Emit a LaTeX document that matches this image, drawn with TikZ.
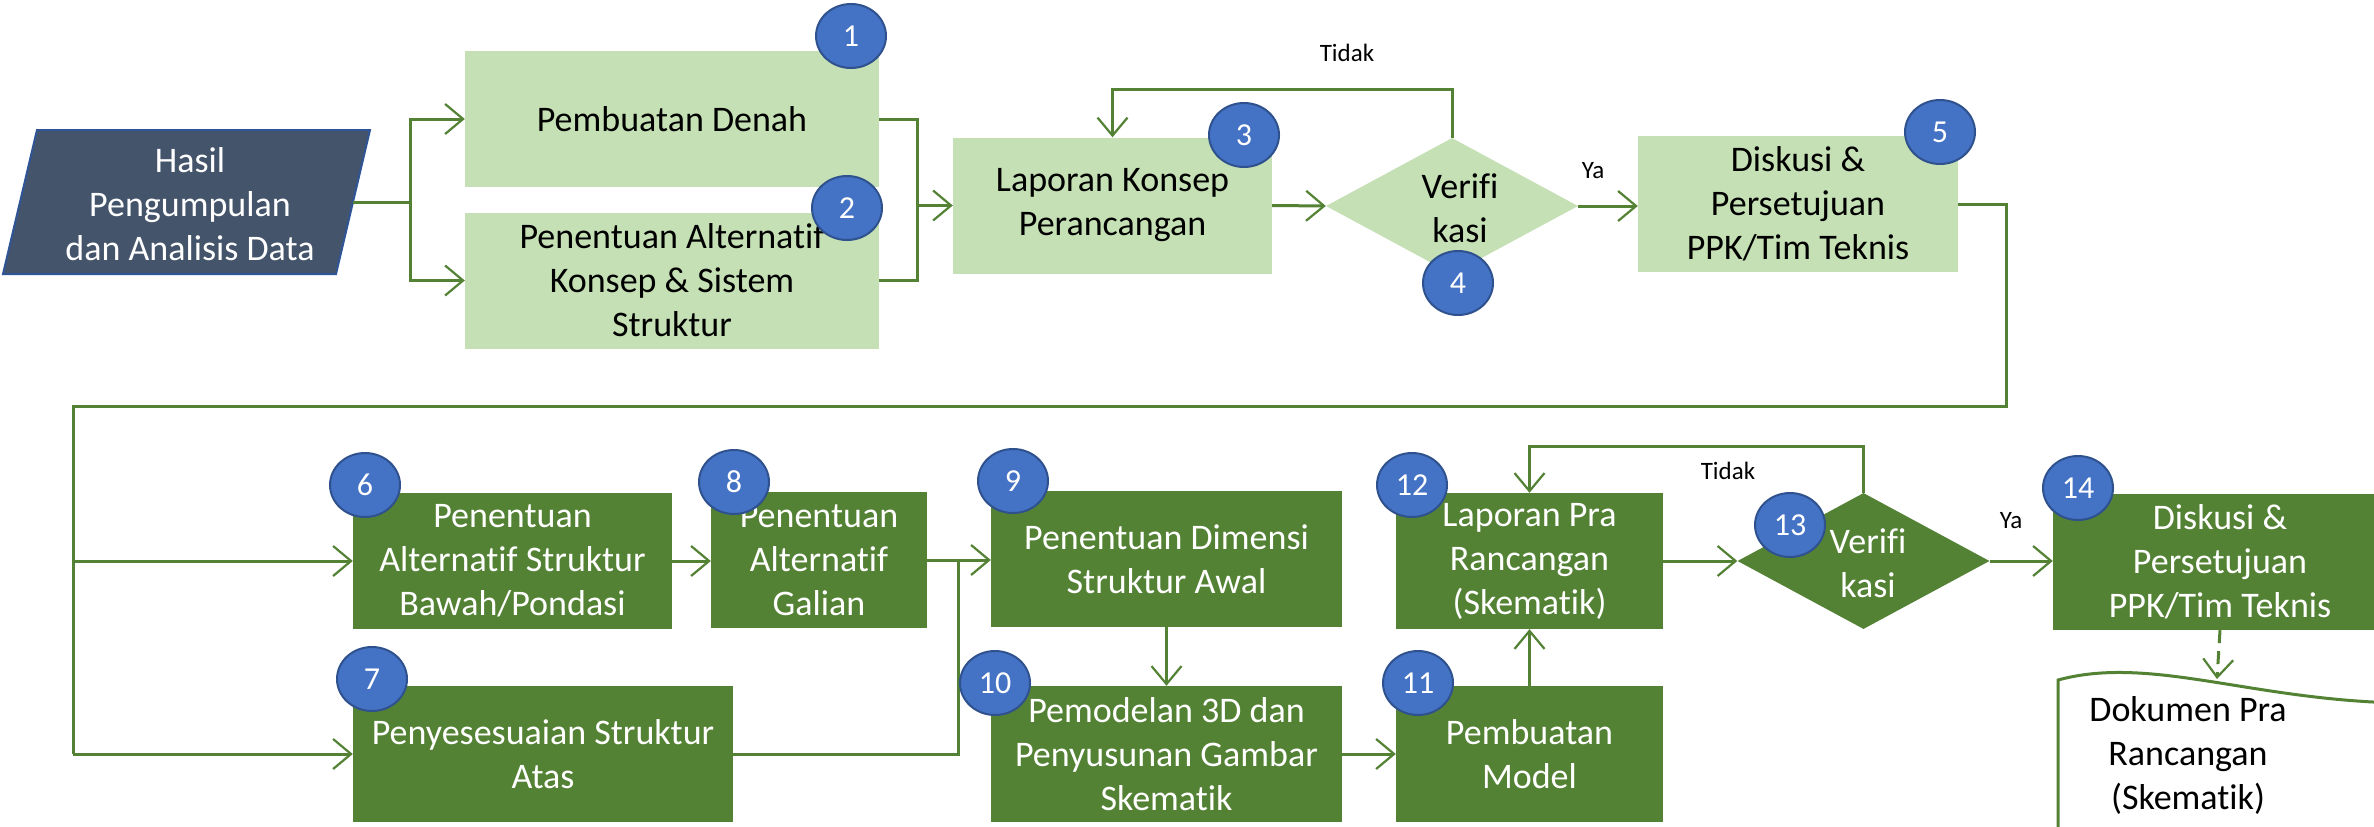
\documentclass[tikz,border=0pt]{standalone}
\usepackage{fontspec}
\setmainfont{Carlito}[Ligatures=NoCommon]
\usetikzlibrary{arrows.meta,shapes.geometric}
\definecolor{lgreen}{HTML}{C5E0B4}
\definecolor{dgreen}{HTML}{548235}
\definecolor{numblue}{HTML}{4472C4}
\definecolor{numedge}{HTML}{2F528F}
\definecolor{slate}{HTML}{44546A}
\definecolor{slateedge}{HTML}{2F5597}
\begin{document}
\begin{tikzpicture}[x=1pt,y=-1pt,
  boxtext/.style={font=\fontsize{36}{44}\selectfont, align=center},
  lightbox/.style={boxtext, rectangle, fill=lgreen, text=black, inner sep=0pt, minimum height=136pt},
  darkbox/.style={boxtext, rectangle, fill=dgreen, text=white, inner sep=0pt, minimum height=136pt},
  decision/.style={diamond, inner sep=0pt, minimum width=252pt, minimum height=136pt},
  badge/.style={ellipse, fill=numblue, draw=numedge, line width=2pt, minimum width=70pt, minimum height=64pt, inner sep=0pt, text=white, font=\fontsize{32}{38}\selectfont},
  flow/.style={draw=dgreen, line width=3pt},
  arrow/.style={flow, -{Straight Barb[length=18pt,width=30pt,line width=2.2pt]}},
  note/.style={font=\fontsize{25}{30}\selectfont, text=black}
]
\clip (0,0) rectangle (2374,827);
\fill[white] (0,0) rectangle (2374,827);

% input data
\draw[fill=slate, draw=slateedge, line width=2pt] (37,130) -- (370,130) -- (336,274) -- (3,274) -- cycle;
\node[boxtext, text=white] (src) at (190,204) {Hasil\\Pengumpulan\\dan Analisis Data};
\coordinate (srcR) at (353,202);

% first stage
\node[lightbox, minimum width=414pt] (b1) at (672,119) {Pembuatan Denah};
\node[lightbox, minimum width=414pt] (b2) at (672,280.5) {Penentuan Alternatif\\Konsep \& Sistem\\Struktur};
\node[lightbox, minimum width=319pt] (b3) at (1112.5,205.5) {Laporan Konsep\\Perancangan};
\node[decision, fill=lgreen] (d4) at (1452,206) {};
\node[boxtext, text=black] (d4t) at (1460,208) {Verifi\\kasi};
\node[lightbox, minimum width=320pt] (b5) at (1798,204) {Diskusi \&\\Persetujuan\\PPK/Tim Teknis};

% second stage
\node[darkbox, minimum width=319pt] (b6) at (512.5,561) {Penentuan\\Alternatif Struktur\\Bawah/Pondasi};
\node[darkbox, minimum width=216pt] (b8) at (819,560) {Penentuan\\Alternatif\\Galian};
\node[darkbox, minimum width=380pt] (b7) at (543,754) {Penyesesuaian Struktur\\Atas};
\node[darkbox, minimum width=351pt] (b9) at (1166.5,559) {Penentuan Dimensi\\Struktur Awal};
\node[darkbox, minimum width=351pt] (b10) at (1166.5,754) {Pemodelan 3D dan\\Penyusunan Gambar\\Skematik};
\node[darkbox, minimum width=267pt] (b11) at (1529.5,754) {Pembuatan\\Model};
\node[darkbox, minimum width=267pt] (b12) at (1529.5,561) {Laporan Pra\\Rancangan\\(Skematik)};
\node[decision, fill=dgreen] (d13) at (1863.5,561) {};
\node[boxtext, text=white] (d13t) at (1868,563) {Verifi\\kasi};
\node[darkbox, minimum width=334pt] (b14) at (2220,562) {Diskusi \&\\Persetujuan\\PPK/Tim Teknis};

% output document
\draw[flow, fill=white] (2058,840) -- (2058,680) .. controls (2150,655) and (2250,700) .. (2400,703) -- (2400,840) -- cycle;
\coordinate (docTop) at (2217,679);
\node[boxtext, text=black] (doc) at (2188,755) {Dokumen Pra\\Rancangan\\(Skematik)};

% connectors, first stage
\coordinate (j1) at (410,202);
\draw[flow] (srcR) -- (j1);
\draw[arrow] (j1) |- (b1.west);
\draw[arrow] (j1) |- (b2.west);
\coordinate (j2) at (917,205.5);
\draw[flow] (b1.east) -| (j2);
\draw[flow] (b2.east) -| (j2);
\draw[arrow] (j2) -- (b3.west);
\draw[arrow] (b3.east) -- (d4.west);
\draw[arrow] (d4.east) -- (b5.west |- d4.east);
\draw[arrow] (d4.north) -- ++(0,-48) -| (b3.north);
\node[note] (t1) at (1347,53) {Tidak};
\node[note] (y1) at (1593,171) {Ya};

% link to second stage
\coordinate (k1) at (2006,406);
\coordinate (k2) at (73,406);
\coordinate (k3) at (73,754);
\draw[flow] (b5.east) -| (k1) -- (k2) -- (k3);
\draw[arrow] (k2 |- b6.west) -- (b6.west);
\draw[arrow] (k3) -- (b7.west);

% connectors, second stage
\draw[arrow] (b6.east) -- (b8.west |- b6.east);
\coordinate (j3) at (958,560);
\draw[arrow] (b8.east) -- (b9.west |- b8.east);
\draw[flow] (b7.east) -| (j3);
\draw[arrow] (b9.south) -- (b10.north);
\draw[arrow] (b10.east) -- (b11.west);
\draw[arrow] (b11.north) -- (b12.south);
\draw[arrow] (b12.east) -- (d13.west);
\draw[arrow] (d13.north) -- ++(0,-46) -| (b12.north);
\draw[arrow] (d13.east) -- (b14.west |- d13.east);
\draw[arrow, dash pattern=on 13pt off 8pt] (b14.south) -- (docTop);
\node[note] (t2) at (1728,471) {Tidak};
\node[note] (y2) at (2011,521) {Ya};

% step numbers
\node[badge] (n1) at (851,36) {1};
\node[badge] (n2) at (847,208) {2};
\node[badge] (n3) at (1244,135) {3};
\node[badge] (n4) at (1458,283) {4};
\node[badge] (n5) at (1940,132) {5};
\node[badge] (n6) at (365,485) {6};
\node[badge] (n7) at (372,679) {7};
\node[badge] (n8) at (734,482) {8};
\node[badge] (n9) at (1013,481) {9};
\node[badge] (n10) at (995,683) {10};
\node[badge] (n11) at (1418,683) {11};
\node[badge] (n12) at (1412,485) {12};
\node[badge] (n13) at (1790,525) {13};
\node[badge] (n14) at (2078,488) {14};
\end{tikzpicture}
\end{document}
